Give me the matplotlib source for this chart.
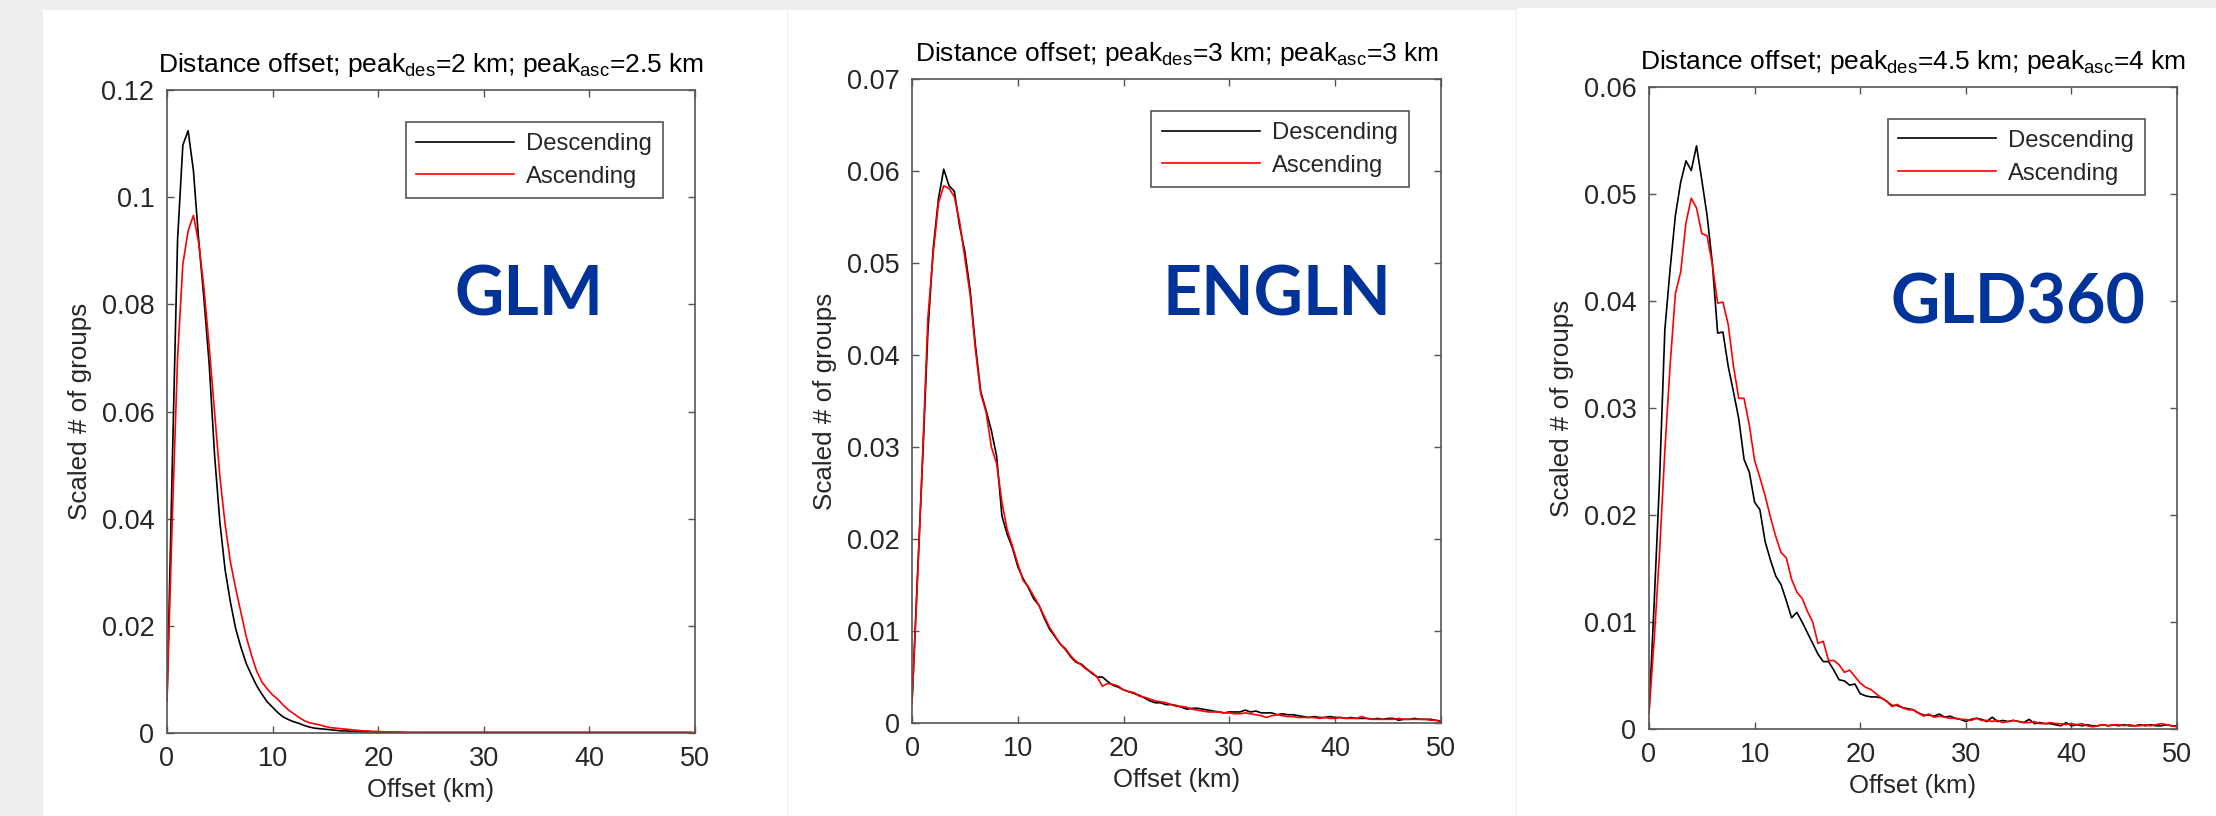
import numpy as np
import matplotlib
matplotlib.use('Agg')
import matplotlib.pyplot as plt
from matplotlib.patches import Rectangle

W, H = 2216, 816
plt.rcParams['font.family'] = ['Liberation Sans', 'DejaVu Sans']
plt.rcParams['mathtext.fontset'] = 'custom'
plt.rcParams['mathtext.rm'] = 'Liberation Sans'
plt.rcParams['mathtext.it'] = 'Liberation Sans:italic'

# ---------------- data ----------------
offset_km = np.arange(0, 50.01, 0.5)   # histogram bin positions (km)

glm_des = [
    0.0060, 0.0500, 0.0920, 0.1097, 0.1124, 0.1050, 0.0920, 0.0810, 0.0687, 0.0520,
    0.0395, 0.0305, 0.0245, 0.0195, 0.0160, 0.0130, 0.0108, 0.0088, 0.0072, 0.0058,
    0.0048, 0.0038, 0.0030, 0.0025, 0.0021, 0.0018, 0.0014, 0.0011, 0.0009, 0.0008,
    0.0007, 0.0006, 0.0005, 0.0004, 0.0004, 0.0003, 0.0003, 0.0002, 0.0002, 0.0002,
    0.0001, 0.0002, 0.0001, 0.0001, 0.0001, 0.0001, 0.0001, 0.0001, 0.0001, 0.0001,
    0.0001, 0.0001, 0.0001, 0.0001, 0.0001, 0.0001, 0.0001, 0.0001, 0.0001, 0.0001,
    0.0001, 0.0001, 0.0001, 0.0001, 0.0001, 0.0001, 0.0001, 0.0001, 0.0001, 0.0001,
    0.0001, 0.0001, 0.0001, 0.0001, 0.0001, 0.0001, 0.0001, 0.0001, 0.0001, 0.0001,
    0.0001, 0.0001, 0.0001, 0.0001, 0.0001, 0.0001, 0.0001, 0.0001, 0.0001, 0.0001,
    0.0001, 0.0001, 0.0001, 0.0001, 0.0001, 0.0001, 0.0001, 0.0001, 0.0001, 0.0001,
    0.0000]
glm_asc = [
    0.0060, 0.0400, 0.0700, 0.0875, 0.0937, 0.0966, 0.0915, 0.0830, 0.0720, 0.0600,
    0.0480, 0.0390, 0.0320, 0.0270, 0.0225, 0.0180, 0.0145, 0.0115, 0.0095, 0.0082,
    0.0071, 0.0063, 0.0052, 0.0043, 0.0036, 0.0029, 0.0023, 0.0019, 0.0017, 0.0015,
    0.0012, 0.0010, 0.0009, 0.0008, 0.0007, 0.0006, 0.0005, 0.0004, 0.0004, 0.0003,
    0.0003, 0.0002, 0.0002, 0.0002, 0.0002, 0.0001, 0.0001, 0.0001, 0.0001, 0.0001,
    0.0001, 0.0001, 0.0001, 0.0001, 0.0001, 0.0001, 0.0001, 0.0001, 0.0001, 0.0001,
    0.0001, 0.0001, 0.0001, 0.0001, 0.0001, 0.0001, 0.0001, 0.0001, 0.0001, 0.0001,
    0.0001, 0.0001, 0.0001, 0.0001, 0.0001, 0.0001, 0.0001, 0.0001, 0.0001, 0.0001,
    0.0001, 0.0001, 0.0001, 0.0001, 0.0001, 0.0001, 0.0001, 0.0001, 0.0001, 0.0001,
    0.0001, 0.0001, 0.0001, 0.0001, 0.0001, 0.0001, 0.0001, 0.0001, 0.0001, 0.0001,
    0.0001]

engln_des = [
    0.0022, 0.0155, 0.0285, 0.0425, 0.0515, 0.0570, 0.0602, 0.0584, 0.0578, 0.0540,
    0.0512, 0.0470, 0.0410, 0.0360, 0.0340, 0.0318, 0.0290, 0.0225, 0.0205, 0.0190,
    0.0170, 0.0157, 0.0147, 0.0135, 0.0128, 0.0114, 0.0102, 0.0094, 0.0086, 0.0080,
    0.0072, 0.0066, 0.0064, 0.0059, 0.0054, 0.0050, 0.0050, 0.0045, 0.0041, 0.0039,
    0.0036, 0.0034, 0.0032, 0.0030, 0.0027, 0.0024, 0.0022, 0.0022, 0.0020, 0.0020,
    0.0019, 0.0017, 0.0015, 0.0016, 0.0016, 0.0015, 0.0014, 0.0013, 0.0012, 0.0011,
    0.0012, 0.0012, 0.0012, 0.0014, 0.0012, 0.0013, 0.0011, 0.0011, 0.0011, 0.0009,
    0.0010, 0.0009, 0.0009, 0.0008, 0.0007, 0.0006, 0.0007, 0.0006, 0.0006, 0.0007,
    0.0006, 0.0006, 0.0005, 0.0006, 0.0005, 0.0005, 0.0005, 0.0004, 0.0005, 0.0004,
    0.0005, 0.0005, 0.0003, 0.0004, 0.0004, 0.0005, 0.0004, 0.0004, 0.0004, 0.0003,
    0.0002]
engln_asc = [
    0.0022, 0.0150, 0.0290, 0.0440, 0.0510, 0.0565, 0.0584, 0.0581, 0.0572, 0.0545,
    0.0505, 0.0465, 0.0405, 0.0358, 0.0338, 0.0300, 0.0282, 0.0240, 0.0210, 0.0192,
    0.0173, 0.0155, 0.0148, 0.0138, 0.0128, 0.0116, 0.0104, 0.0095, 0.0086, 0.0081,
    0.0073, 0.0067, 0.0063, 0.0058, 0.0055, 0.0050, 0.0040, 0.0043, 0.0042, 0.0040,
    0.0036, 0.0034, 0.0033, 0.0029, 0.0028, 0.0026, 0.0024, 0.0023, 0.0022, 0.0020,
    0.0018, 0.0018, 0.0017, 0.0015, 0.0014, 0.0013, 0.0012, 0.0012, 0.0012, 0.0011,
    0.0011, 0.0010, 0.0010, 0.0011, 0.0010, 0.0009, 0.0008, 0.0006, 0.0008, 0.0009,
    0.0008, 0.0007, 0.0007, 0.0006, 0.0006, 0.0006, 0.0006, 0.0005, 0.0006, 0.0005,
    0.0005, 0.0006, 0.0005, 0.0005, 0.0005, 0.0007, 0.0005, 0.0004, 0.0004, 0.0004,
    0.0004, 0.0004, 0.0005, 0.0004, 0.0004, 0.0004, 0.0004, 0.0004, 0.0003, 0.0003,
    0.0001]

gld_des = [
    0.0015, 0.0120, 0.0233, 0.0373, 0.0430, 0.0480, 0.0511, 0.0531, 0.0522, 0.0545,
    0.0513, 0.0480, 0.0435, 0.0370, 0.0371, 0.0339, 0.0315, 0.0290, 0.0252, 0.0240,
    0.0212, 0.0205, 0.0175, 0.0158, 0.0143, 0.0135, 0.0120, 0.0104, 0.0109, 0.0100,
    0.0090, 0.0080, 0.0070, 0.0063, 0.0063, 0.0055, 0.0046, 0.0045, 0.0041, 0.0042,
    0.0033, 0.0031, 0.0030, 0.0030, 0.0029, 0.0026, 0.0022, 0.0022, 0.0020, 0.0019,
    0.0018, 0.0015, 0.0013, 0.0013, 0.0012, 0.0014, 0.0011, 0.0012, 0.0010, 0.0009,
    0.0007, 0.0009, 0.0010, 0.0009, 0.0007, 0.0011, 0.0007, 0.0008, 0.0007, 0.0008,
    0.0007, 0.0006, 0.0009, 0.0005, 0.0006, 0.0005, 0.0005, 0.0004, 0.0003, 0.0006,
    0.0003, 0.0004, 0.0003, 0.0004, 0.0003, 0.0003, 0.0004, 0.0003, 0.0004, 0.0003,
    0.0004, 0.0003, 0.0003, 0.0004, 0.0003, 0.0004, 0.0003, 0.0003, 0.0004, 0.0003,
    0.0003]
gld_asc = [
    0.0015, 0.0085, 0.0165, 0.0260, 0.0340, 0.0407, 0.0427, 0.0473, 0.0496, 0.0487,
    0.0463, 0.0461, 0.0434, 0.0398, 0.0399, 0.0378, 0.0339, 0.0309, 0.0309, 0.0284,
    0.0251, 0.0235, 0.0218, 0.0198, 0.0180, 0.0165, 0.0160, 0.0140, 0.0128, 0.0122,
    0.0110, 0.0100, 0.0080, 0.0082, 0.0064, 0.0064, 0.0060, 0.0053, 0.0055, 0.0049,
    0.0043, 0.0039, 0.0037, 0.0033, 0.0029, 0.0026, 0.0021, 0.0023, 0.0020, 0.0018,
    0.0018, 0.0015, 0.0012, 0.0014, 0.0011, 0.0012, 0.0011, 0.0010, 0.0010, 0.0009,
    0.0009, 0.0008, 0.0010, 0.0008, 0.0008, 0.0007, 0.0008, 0.0006, 0.0007, 0.0008,
    0.0007, 0.0006, 0.0006, 0.0007, 0.0005, 0.0005, 0.0006, 0.0005, 0.0005, 0.0004,
    0.0005, 0.0004, 0.0005, 0.0003, 0.0002, 0.0003, 0.0004, 0.0003, 0.0004, 0.0004,
    0.0003, 0.0004, 0.0003, 0.0003, 0.0004, 0.0003, 0.0004, 0.0005, 0.0004, 0.0003,
    0.0002]

network_names = ['GLM', 'ENGLN', 'GLD360']
peak_des = ['2', '3', '4.5']
peak_asc = ['2.5', '3', '4']
series_labels = ['Descending', 'Ascending']

x_ticks = [0, 10, 20, 30, 40, 50]
x_tick_labels = ['0', '10', '20', '30', '40', '50']
y_ticks_glm = [0, 0.02, 0.04, 0.06, 0.08, 0.10, 0.12]
y_tick_labels_glm = ['0', '0.02', '0.04', '0.06', '0.08', '0.1', '0.12']
y_ticks_engln = [0, 0.01, 0.02, 0.03, 0.04, 0.05, 0.06, 0.07]
y_tick_labels_engln = ['0', '0.01', '0.02', '0.03', '0.04', '0.05', '0.06', '0.07']
y_ticks_gld = [0, 0.01, 0.02, 0.03, 0.04, 0.05, 0.06]
y_tick_labels_gld = ['0', '0.01', '0.02', '0.03', '0.04', '0.05', '0.06']

# ---------------- layout (pixels) ----------------
axes_px = [(167, 90, 695, 733), (912, 79, 1441, 723), (1649, 87, 2177, 729)]
white_px = [(43, 10, 787, 816), (788, 10, 1516, 816), (1517, 8, 2216, 816)]
name_px = [(529, 296), (1277, 296), (2018, 304)]

series = [(glm_des, glm_asc, y_ticks_glm, y_tick_labels_glm),
          (engln_des, engln_asc, y_ticks_engln, y_tick_labels_engln),
          (gld_des, gld_asc, y_ticks_gld, y_tick_labels_gld)]

fig = plt.figure(figsize=(W / 100, H / 100), dpi=100, facecolor='#eeeeee')

for (x0, y0, x1, y1) in white_px:
    fig.add_artist(Rectangle((x0 / W, 1 - y1 / H), (x1 - x0) / W, (y1 - y0) / H,
                             transform=fig.transFigure, facecolor='white',
                             edgecolor='none', zorder=-10))

AX_COL = '#555555'
TXT_COL = '#262626'

for i, (des, asc, yt, ytl) in enumerate(series):
    l, t, r, b = axes_px[i]
    ax = fig.add_axes([l / W, 1 - b / H, (r - l) / W, (b - t) / H])
    ax.plot(offset_km, des, color='black', lw=1.2, label=series_labels[0])
    ax.plot(offset_km, asc, color='#ff0000', lw=1.2, label=series_labels[1])
    ax.set_xlim(0, 50)
    ax.set_ylim(yt[0], yt[-1])
    ax.set_xticks(x_ticks)
    ax.set_xticklabels(x_tick_labels)
    ax.set_yticks(yt)
    ax.set_yticklabels(ytl)
    ax.tick_params(direction='in', length=5, width=1.0, top=True, right=True,
                   labelsize=19.5, color=AX_COL, labelcolor=TXT_COL, pad=9)
    for s in ax.spines.values():
        s.set_color(AX_COL)
        s.set_linewidth(1.2)
    ax.set_xlabel('Offset (km)', fontsize=18.5, color=TXT_COL, labelpad=5)
    ax.set_ylabel('Scaled # of groups', fontsize=18.7, color=TXT_COL, labelpad=7)
    title = ('Distance offset; peak$_{\\mathrm{des}}$=' + peak_des[i] +
             ' km; peak$_{\\mathrm{asc}}$=' + peak_asc[i] + ' km')
    ax.set_title(title, fontsize=19, color='black', pad=13)
    leg = ax.legend(loc='upper right', bbox_to_anchor=(0.939, 0.95),
                    borderaxespad=0, fontsize=17.2, handlelength=4.1,
                    handletextpad=0.5, borderpad=0.45, labelspacing=0.45,
                    fancybox=False, edgecolor=AX_COL, framealpha=1)
    leg.get_frame().set_linewidth(1.2)
    for txt in leg.get_texts():
        txt.set_color(TXT_COL)
    cx, cy = name_px[i]
    fig.text(cx / W, 1 - cy / H, network_names[i], ha='center', va='center',
             fontsize=49, fontweight='bold', color='#003399', family='Lato')

fig.savefig('out.png', dpi=100, facecolor=fig.get_facecolor())
